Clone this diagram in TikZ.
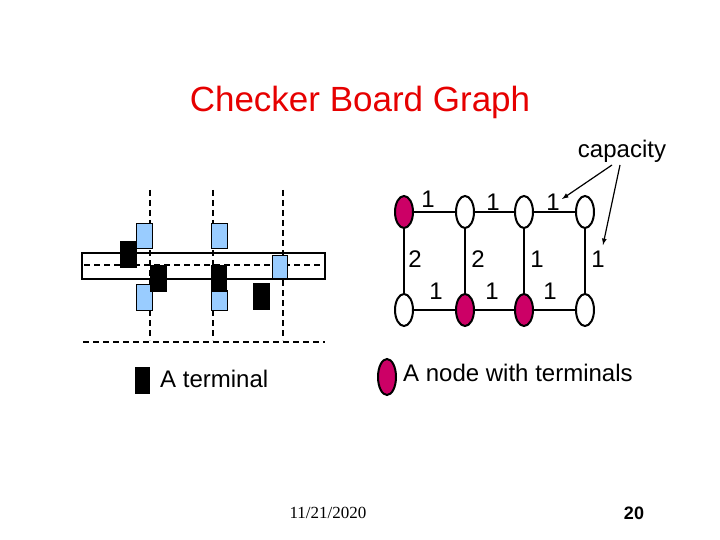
\documentclass[tikz,border=0pt]{standalone}
\usepackage{fontspec}
\setmainfont{Liberation Sans}
\newfontfamily\serifdate{Liberation Serif}
\usetikzlibrary{shapes.geometric}
\definecolor{mag}{RGB}{204,0,102}
\definecolor{lblue}{RGB}{153,204,255}
\definecolor{tred}{RGB}{230,0,0}
\begin{document}
\begin{tikzpicture}[x=1pt,y=-1pt,
  gn/.style={draw,line width=2pt,ellipse,minimum width=18pt,minimum height=32pt,inner sep=0pt},
  tn/.style={gn,fill=mag},
  ed/.style={line width=2pt},
  dl/.style={line width=2pt,dash pattern=on 6pt off 4pt},
  bl/.style={draw,fill=lblue,line width=1pt},
  bk/.style={fill=black},
  lb/.style={font=\fontsize{24}{24}\selectfont,inner sep=0pt}]
\useasboundingbox (0,0) rectangle (720,540);
\node[text=tred,font=\fontsize{35}{35}\selectfont] (title) at (360,102) {Checker Board Graph};
% left
\draw[line width=2.5pt] (82,253) rectangle (325,279);
\draw[dl] (84,265) -- (323,265);
\foreach \x in {150,213,283} \draw[dl] (\x,190) -- (\x,340);
\draw[dl] (83,342) -- (325,342);
\draw[bl] (136,224) rectangle (152,248);
\draw[bl] (136,284) rectangle (152,310);
\draw[bl] (211,224) rectangle (227,248);
\draw[bl] (211,290) rectangle (227,310);
\draw[bl] (272,255) rectangle (287,278);
\fill[bk] (120,241) rectangle (137,268);
\fill[bk] (150,265) rectangle (167,292);
\fill[bk] (211,265) rectangle (227,292);
\fill[bk] (253,283) rectangle (270,310);
% graph
\node[tn] (a1) at (404,212) {};
\node[gn] (a2) at (465,212) {};
\node[gn] (a3) at (524,212) {};
\node[gn] (a4) at (585,212) {};
\node[gn] (b1) at (404,310) {};
\node[tn] (b2) at (465,310) {};
\node[tn] (b3) at (524,310) {};
\node[gn] (b4) at (585,310) {};
\draw[ed] (a1)--(a2) (a2)--(a3) (a3)--(a4) (b1)--(b2) (b2)--(b3) (b3)--(b4)
  (a1)--(b1) (a2)--(b2) (a3)--(b3) (a4)--(b4);
\node[lb] (l1) at (428,199) {1};
\node[lb] (l2) at (493,202) {1};
\node[lb] (l3) at (553,202) {1};
\node[lb] (l4) at (415,259) {2};
\node[lb] (l5) at (478,259) {2};
\node[lb] (l6) at (537,259) {1};
\node[lb] (l7) at (598,259) {1};
\node[lb] (l8) at (436,291) {1};
\node[lb] (l9) at (492,291) {1};
\node[lb] (l10) at (550,291) {1};
\node[lb] (cap) at (622,151) {capacity};
\coordinate (t1) at (562,199);
\coordinate (t2) at (603,245);
\draw[-latex,line width=1.2pt] (612,165) -- (t1);
\draw[-latex,line width=1.2pt] (620,165) -- (t2);
% legend
\fill[bk] (135,367) rectangle (150,394);
\node[lb,anchor=west] (lt) at (160,379) {A terminal};
\node[tn,minimum height=36pt] (ln) at (387,377) {};
\node[lb,anchor=west] (lnt) at (403,373) {A node with terminals};
\node[font=\serifdate\fontsize{17}{17}\selectfont] (date) at (328,513) {11/21/2020};
\node[font=\bfseries\fontsize{18}{18}\selectfont] (pg) at (634,513) {20};
\end{tikzpicture}
\end{document}
